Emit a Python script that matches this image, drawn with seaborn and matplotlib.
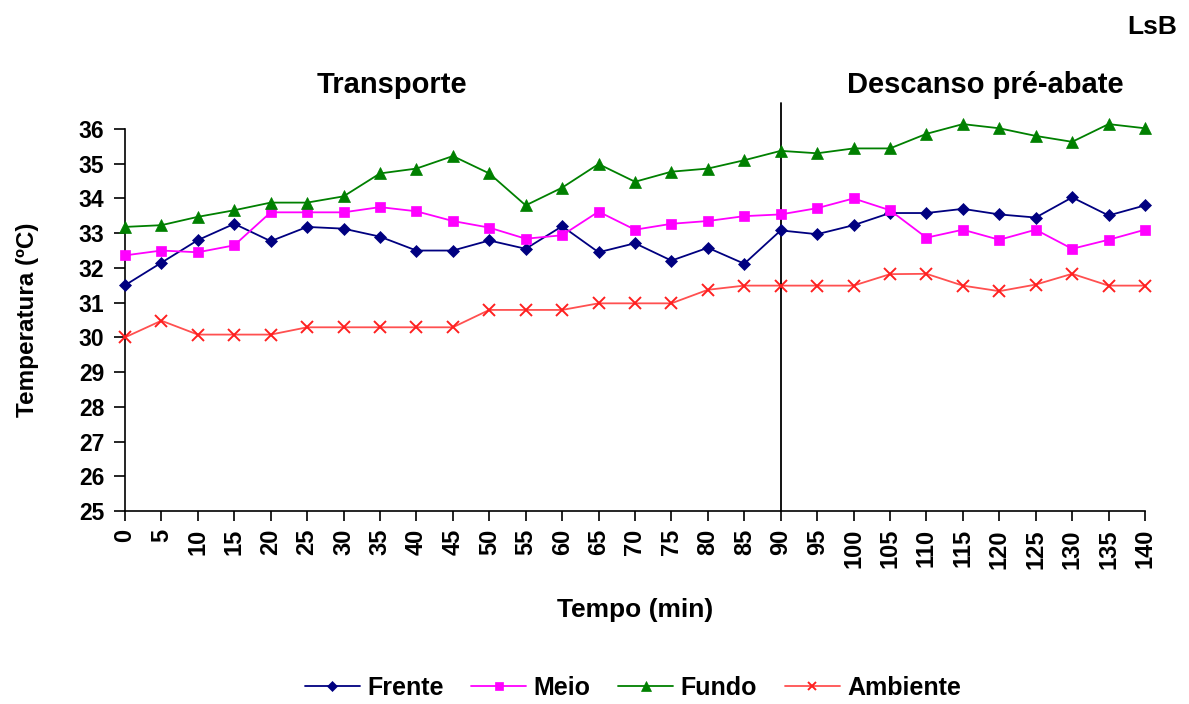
import matplotlib
matplotlib.use("Agg")
import matplotlib.pyplot as plt
import seaborn as sns

tempo = [0, 5, 10, 15, 20, 25, 30, 35, 40, 45, 50, 55, 60, 65, 70, 75, 80, 85, 90,
         95, 100, 105, 110, 115, 120, 125, 130, 135, 140]
frente = [31.5, 32.15, 32.8, 33.27, 32.77, 33.18, 33.13, 32.9, 32.5, 32.5, 32.79, 32.55,
          33.2, 32.45, 32.71, 32.21, 32.58, 32.12, 33.08, 32.97, 33.23, 33.58, 33.58,
          33.7, 33.54, 33.45, 34.03, 33.51, 33.8]
meio = [32.36, 32.5, 32.45, 32.65, 33.6, 33.6, 33.6, 33.75, 33.63, 33.35, 33.16, 32.84,
        32.94, 33.62, 33.1, 33.27, 33.35, 33.49, 33.54, 33.72, 34.0, 33.66, 32.87,
        33.1, 32.81, 33.1, 32.55, 32.81, 33.1]
fundo = [33.18, 33.23, 33.47, 33.66, 33.88, 33.88, 34.06, 34.72, 34.86, 35.22, 34.72,
         33.8, 34.31, 34.99, 34.48, 34.77, 34.86, 35.1, 35.37, 35.3, 35.44, 35.44,
         35.86, 36.14, 36.02, 35.8, 35.63, 36.14, 36.02]
ambiente = [30.0, 30.48, 30.08, 30.08, 30.08, 30.29, 30.29, 30.29, 30.29, 30.29, 30.79,
            30.79, 30.79, 30.98, 30.98, 30.98, 31.37, 31.49, 31.49, 31.49, 31.49, 31.82,
            31.83, 31.49, 31.33, 31.52, 31.83, 31.49, 31.49]
series_names = ["Frente", "Meio", "Fundo", "Ambiente"]
yticks = list(range(25, 37))

sns.set_style("white")
plt.rcParams["font.family"] = ["Liberation Sans", "DejaVu Sans"]
plt.rcParams["text.color"] = "black"
plt.rcParams["axes.labelcolor"] = "black"
plt.rcParams["xtick.color"] = "black"
plt.rcParams["ytick.color"] = "black"

fig = plt.figure(figsize=(11.89, 7.04), dpi=100)
ax = fig.add_axes([0.1051, 0.2741, 0.8579, 0.5427])

styles = {
    "Frente": dict(color="#000080", marker="D", markersize=6.5, mec="#000080", mfc="#000080", mew=0.5, lw=1.3),
    "Meio": dict(color="#FF00FF", marker="s", markersize=7, mec="#FF00FF", mfc="#FF00FF", mew=0.5, lw=1.3),
    "Fundo": dict(color="#008000", marker="^", markersize=8.5, mec="#008000", mfc="#008000", mew=0.5, lw=1.3),
    "Ambiente": dict(color="#FF5050", marker="x", markersize=8, mec="#FF2020", mew=1.4, lw=1.3),
}
data = {"Frente": frente, "Meio": meio, "Fundo": fundo, "Ambiente": ambiente}
for name in series_names:
    st = styles[name]
    sns.lineplot(x=tempo, y=data[name], ax=ax, label=name, clip_on=False, zorder=3, **st)

ax.set_xlim(0, 140)
ax.set_ylim(25, 36)
ax.set_yticks(yticks)
ax.set_xticks(tempo)
ax.set_xticklabels([str(t) for t in tempo], rotation=90, fontsize=17, fontweight="bold", color="black")
ax.set_yticklabels([str(t) for t in yticks], fontsize=16.5, fontweight="bold", color="black")
ax.tick_params(axis="x", direction="out", length=7, width=1.2, colors="black", pad=6, bottom=True)
ax.tick_params(axis="y", direction="out", length=8, width=1.2, colors="black", pad=7, left=True)
for s in ["top", "right"]:
    ax.spines[s].set_visible(False)
for s in ["left", "bottom"]:
    ax.spines[s].set_color("black")
    ax.spines[s].set_linewidth(1.2)

ax.plot([90, 90], [25, 36.75], color="black", lw=1.3, clip_on=False, zorder=2)

ax.set_xlabel("Tempo (min)", fontsize=19, fontweight="bold", color="black")
ax.set_ylabel("Temperatura (ºC)", fontsize=17.5, fontweight="bold", color="black")
ax.xaxis.set_label_coords(0.5, (511 - 610) / 382)
ax.xaxis.label.set_va("center")
ax.yaxis.set_label_coords((28 - 125) / 1020, 0.5)
ax.yaxis.label.set_va("center")

fig.text(392 / 1189, 1 - 85 / 704, "Transporte", fontsize=21, fontweight="bold", ha="center", va="center", color="black")
fig.text(985 / 1189, 1 - 85 / 704, "Descanso pré-abate", fontsize=21, fontweight="bold", ha="center", va="center", color="black")
fig.text(1177 / 1189, 1 - 27 / 704, "LsB", fontsize=19, fontweight="bold", ha="right", va="center", color="black")

ax.get_legend().remove()
handles, labels = ax.get_legend_handles_labels()
leg = fig.legend(handles, labels, loc="center", bbox_to_anchor=(633 / 1189, 1 - 688 / 704), ncol=4,
                 frameon=False, prop=dict(size=18, weight="bold"), handlelength=2.2,
                 handletextpad=0.3, columnspacing=1.1, markerscale=0.8)
for t in leg.get_texts():
    t.set_color("black")

fig.savefig("out.png", dpi=100)
